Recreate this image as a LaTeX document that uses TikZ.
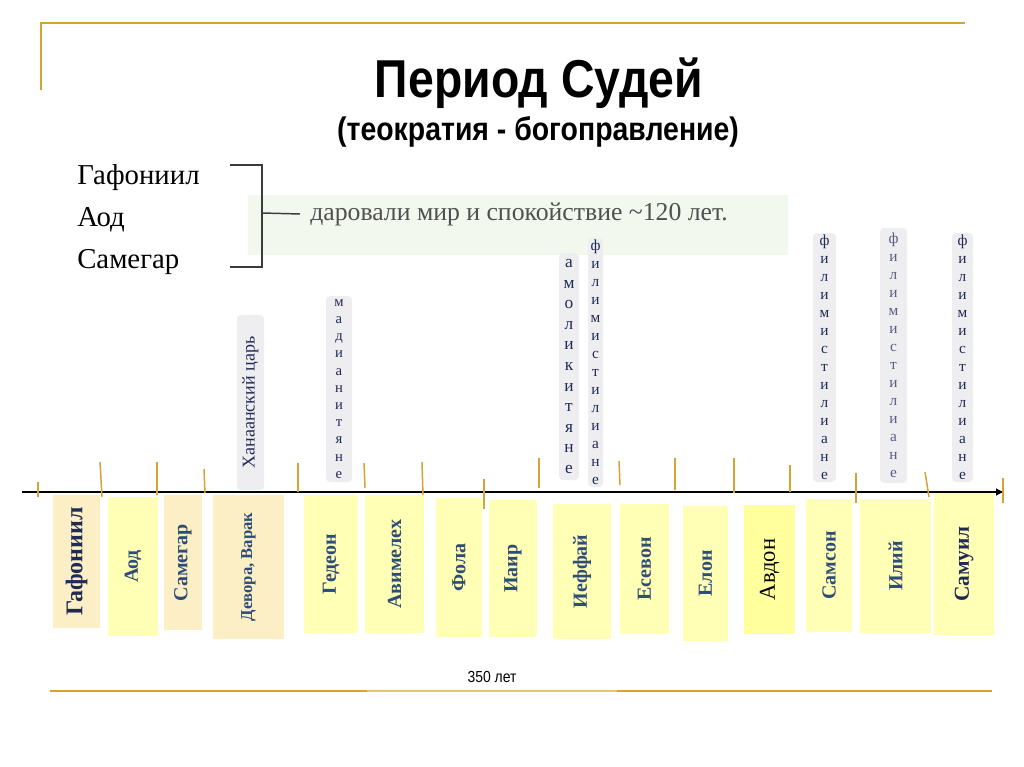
\documentclass[tikz,border=0pt]{standalone}
\usepackage{fontspec}
\setmainfont{Liberation Serif}
\newfontfamily\hdfont[FakeStretch=0.87]{Liberation Sans}
\usetikzlibrary{arrows.meta}
\definecolor{gold}{HTML}{D4A331}
\definecolor{goldlight}{HTML}{E6C47A}
\definecolor{paleyel}{HTML}{FFFFB5}
\definecolor{beige}{HTML}{FCEFC5}
\definecolor{brightyel}{HTML}{FFFF9E}
\definecolor{tagfill}{HTML}{EEEEF1}
\definecolor{navy}{HTML}{1F2A55}
\definecolor{steel}{HTML}{2E4C78}
\definecolor{palegreen}{HTML}{F3F8EE}
\definecolor{brack}{HTML}{3C3C3C}
\newcommand\judgebox[7]{%
  \node[#6, minimum width={(#5-#3)*0.75pt}, minimum height={(#4-#2)*0.75pt}, rotate=90]
    (#1) at ({(#2+#4)/2},{(#3+#5)/2}) {#7};}
\newcommand\tagbox[7]{%
  \node[tag, #6, minimum width={(#4-#2)*0.75pt}, minimum height={(#5-#3)*0.75pt}]
    (#1) at ({(#2+#4)/2},{(#3+#5)/2}) {#7};}
\begin{document}
\begin{tikzpicture}[x=0.75pt,y=-0.75pt,
  framegold/.style={draw=gold, line width=2.2pt},
  yel/.style={fill=paleyel, inner sep=0, text=steel, font=\bfseries\fontsize{15}{17}\selectfont},
  bei/.style={yel, fill=beige},
  tag/.style={fill=tagfill, rounded corners=3pt, inner sep=0, text=navy, align=center},
  stackA/.style={font=\fontsize{11.5}{13.5}\selectfont},
  tickline/.style={draw=gold, line width=1.1pt},
  listtext/.style={anchor=base west, inner sep=0, font=\fontsize{21.6}{26}\selectfont},
]
\useasboundingbox (0,0) rectangle (1024,767);
\fill[white] (0,0) rectangle (1024,767);

% frame
\draw[framegold] (40,23) -- (965,23);
\draw[draw=gold, line width=1.5pt] (41,22) -- (41,90);
\draw[framegold] (50,691) -- (367,691);
\draw[draw=goldlight, line width=1.1pt] (367,691) -- (617,691);
\draw[framegold] (617,691) -- (992,691);

% titles
\node[inner sep=0, font=\hdfont\bfseries\fontsize{40}{44}\selectfont] (title) at (539,83) {Период Судей};
\node[inner sep=0, font=\hdfont\bfseries\fontsize{24.5}{28}\selectfont] (subtitle) at (538,132) {(теократия - богоправление)};

% left list & bracket
\fill[palegreen] (248,195) rectangle (788,255);
\node[listtext] (l1) at (77,184) {Гафониил};
\node[listtext] (l2) at (77,226) {Аод};
\node[listtext] (l3) at (77,268) {Самегар};
\node[anchor=west, inner sep=0, text=brack!90, font=\fontsize{19.3}{21}\selectfont] (peace) at (310,214) {даровали мир и спокойствие \char"007E 120 лет.};
\coordinate (bt) at (230,165);
\coordinate (bb) at (230,267);
\coordinate (bm) at (262,213);
\draw[draw=brack, line width=1.1pt] (bt) -- (262,165) -- (262,267) -- (bb);
\draw[draw=brack, line width=1.1pt] (bm) -- (peace.west -| 300,213);

% timeline
\coordinate (t0) at (22,492);
\coordinate (t1) at (1004,492);
\draw[line width=1.5pt, -{Latex[length=6pt,width=6pt]}] (t0) -- (t1);
\foreach \xa/\ya/\xb/\yb in {38/482/38/497, 100/462/102/497, 157/462/157/495, 204/469/205/493,
  298/463/298/492, 364/463/365/488, 422/462/423/495, 484/479/484/509, 539/458/539/488,
  619/461/620/485, 675/458/675/490, 734/458/734/493, 790/465/790/492, 856/473/856/503,
  925/472/929/497, 1003/478/1003/503}
  \draw[tickline] (\xa,\ya) -- (\xb,\yb);

% judges
\judgebox{g1}{53}{495}{100}{628}{bei, text=navy, font=\bfseries\fontsize{18}{20}\selectfont}{Гафониил}
\judgebox{g2}{108}{497}{158}{636}{yel}{Аод}
\judgebox{g3}{164}{495}{202}{630}{bei}{Самегар}
\judgebox{g4}{213}{495}{284}{639}{bei, font=\bfseries\fontsize{12.5}{14}\selectfont}{Девора, Варак}
\judgebox{g5}{304}{495}{358}{633}{yel}{Гедеон}
\judgebox{g6}{365}{495}{424}{633}{yel}{Авимелех}
\judgebox{g7}{436}{498}{482}{637}{yel}{Фола}
\judgebox{g8}{489}{500}{537}{637}{yel}{Иаир}
\judgebox{g9}{553}{504}{611}{639}{yel}{Иеффай}
\judgebox{g10}{620}{504}{669}{634}{yel}{Есевон}
\judgebox{g11}{683}{506}{728}{641}{yel}{Елон}
\judgebox{g12}{744}{505}{795}{634}{yel, fill=brightyel, text=black, font=\fontsize{17}{19}\selectfont}{Авдон}
\judgebox{g13}{806}{499}{852}{632}{yel}{Самсон}
\judgebox{g14}{860}{499}{931}{633}{yel}{Илий}
\judgebox{g15}{934}{493}{994}{635}{yel, text=navy, font=\bfseries\fontsize{16}{18}\selectfont}{Самуил}

% enemies
\node[tag, rotate=90, minimum width={(490-315)*0.75pt}, minimum height={(264-237)*0.75pt},
  font=\fontsize{13.5}{15}\selectfont] (e1) at (250.5,402.5) {Ханаанский царь};
\tagbox{e2}{326}{296}{352}{482}{font=\fontsize{11}{12.9}\selectfont}{м\\а\\д\\и\\а\\н\\и\\т\\я\\н\\е}
\tagbox{e3}{559}{253}{579}{480}{font=\fontsize{13}{15.4}\selectfont}{а\\м\\о\\л\\и\\к\\и\\т\\я\\н\\е}
\tagbox{e4}{588}{238}{603}{487}{stackA}{ф\\и\\л\\и\\м\\и\\с\\т\\и\\л\\и\\а\\н\\е}
\tagbox{e5}{813}{233}{836}{482}{stackA}{ф\\и\\л\\и\\м\\и\\с\\т\\и\\л\\и\\а\\н\\е}
\tagbox{e6}{880}{228}{907}{483}{stackA, text=navy!75}{ф\\и\\л\\и\\м\\и\\с\\т\\и\\л\\и\\а\\н\\е}
\tagbox{e7}{952}{233}{973}{482}{stackA}{ф\\и\\л\\и\\м\\и\\с\\т\\и\\л\\и\\а\\н\\е}

\node[inner sep=0, font=\hdfont\fontsize{12}{14}\selectfont] (years) at (492,677) {350 лет};
\end{tikzpicture}
\end{document}
